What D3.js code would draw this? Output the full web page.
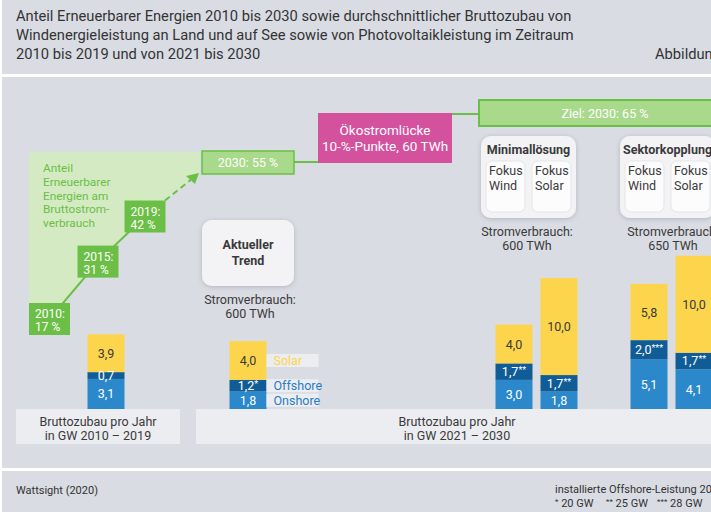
<!DOCTYPE html>
<html>
<head>
<meta charset="utf-8">
<script src="https://cdn.jsdelivr.net/npm/d3@7"></script>
<style>
  body { margin: 0; background: #fff; }
  svg { display: block; font-family: Roboto, "Noto Sans", sans-serif; }
</style>
</head>
<body>
<div id="chart"></div>
<script>
// Daten
const szenarien = ["2010-2019", "Trend", "MinWind", "MinSolar", "SekWind", "SekSolar"];
const onshore = [3.1, 1.8, 3.0, 1.8, 5.1, 4.1];
const offshore = [0.7, 1.2, 1.7, 1.7, 2.0, 1.7];
const solar = [3.9, 4.0, 4.0, 10.0, 5.8, 10.0];
const offshoreSterne = ["", "*", "**", "**", "***", "**"];

const anteilJahre = [2010, 2015, 2019];
const anteilWerte = [17, 31, 42];
const zielJahr = 2030;
const trendWert = 55;
const zielWert = 65;
const lueckePunkte = 10;
const lueckeTWh = 60;

const verbrauchTWh = [600, 600, 650]; // Trend, Minimallösung, Sektorkopplung
const fussnoteSterne = ["*", "**", "***"];
const fussnoteGW = [20, 25, 28];

// Layout
const WIDTH = 711;
const HEIGHT = 512;
const BAR_X = [106, 248, 514, 559, 649, 694];
const BAR_W = 37;
const BASE_Y = 409;

const GRAU = "#d9dce3";
const HELL = "#ecedf1";
const GRUEN = "#6cbf46";
const GRUEN_HELL = "#d3eac3";
const GRUEN_MITTEL = "#a9d98b";
const PINK = "#d4519e";
const GELB = "#fcd54d";
const DUNKELBLAU = "#0f5c97";
const BLAU = "#2b88cb";
const TEXT = "#3a3a3a";

const fmt = d3.formatLocale({ decimal: ",", thousands: ".", grouping: [3], currency: ["", " €"] }).format(".1f");

const svg = d3.select("#chart")
  .append("svg")
  .attr("width", WIDTH)
  .attr("height", HEIGHT);

const defs = svg.append("defs");
defs.append("filter")
  .attr("id", "schatten")
  .attr("x", "-20%").attr("y", "-20%").attr("width", "140%").attr("height", "140%")
  .append("feDropShadow")
  .attr("dx", 0).attr("dy", 1).attr("stdDeviation", 2.5)
  .attr("flood-color", "#000").attr("flood-opacity", 0.18);

// Hintergrundflächen
svg.append("rect").attr("x", 2).attr("y", 0).attr("width", WIDTH).attr("height", 74).attr("fill", GRAU);
svg.append("rect").attr("x", 2).attr("y", 77).attr("width", WIDTH).attr("height", 391).attr("fill", GRAU);
svg.append("rect").attr("x", 2).attr("y", 471).attr("width", WIDTH).attr("height", 41).attr("fill", GRAU);

// Titel
const titel = [
  "Anteil Erneuerbarer Energien 2010 bis 2030 sowie durchschnittlicher Bruttozubau von",
  "Windenergieleistung an Land und auf See sowie von Photovoltaikleistung im Zeitraum",
  "2010 bis 2019 und von 2021 bis 2030"
];
svg.append("g").selectAll("text")
  .data(titel)
  .join("text")
  .attr("x", 16)
  .attr("y", (d, i) => 21 + i * 19)
  .attr("font-size", 14.7)
  .attr("fill", "#333")
  .text(d => d);
svg.append("text").attr("x", 655).attr("y", 59).attr("font-size", 14.7).attr("fill", "#333").text("Abbildung");

// Untere Beschriftungsfelder
svg.append("rect").attr("x", 16).attr("y", BASE_Y).attr("width", 164).attr("height", 35).attr("fill", HELL);
svg.append("rect").attr("x", 196).attr("y", BASE_Y).attr("width", 530).attr("height", 35).attr("fill", HELL);
const unten = [
  { x: 98, zeilen: ["Bruttozubau pro Jahr", "in GW 2010 – 2019"] },
  { x: 457, zeilen: ["Bruttozubau pro Jahr", "in GW 2021 – 2030"] }
];
unten.forEach(u => {
  svg.append("text")
    .attr("text-anchor", "middle").attr("font-size", 12.5).attr("fill", TEXT)
    .selectAll("tspan").data(u.zeilen).join("tspan")
    .attr("x", u.x).attr("y", (d, i) => 426 + i * 14).text(d => d);
});

// Anteil EE: hellgrüne Fläche, Linie, Kästen
const anteilX = d3.scaleOrdinal().domain(anteilJahre).range([49.5, 98, 145]);
const anteilY = d3.scaleLinear().domain([17, 42]).range([319, 216.5]);

const punkte = anteilJahre.map((j, i) => [anteilX(j), anteilY(anteilWerte[i])]);
const flaeche = [[29, 152], [200, 152], [200, 173]].concat(punkte.slice().reverse()).concat([[29, punkte[0][1]]]);
svg.append("path")
  .attr("d", d3.line()(flaeche) + "Z")
  .attr("fill", GRUEN_HELL);

svg.append("path")
  .attr("d", d3.line()(punkte))
  .attr("fill", "none").attr("stroke", GRUEN).attr("stroke-width", 2);

// gestrichelter Pfeil 2019 -> 2030
svg.append("line")
  .attr("x1", punkte[2][0] + 20).attr("y1", punkte[2][1] - 16)
  .attr("x2", 193).attr("y2", 178)
  .attr("stroke", GRUEN).attr("stroke-width", 2).attr("stroke-dasharray", "6,4");
svg.append("path")
  .attr("d", "M199,173 L186,176 L195,184 Z")
  .attr("fill", GRUEN);

svg.append("text")
  .attr("font-size", 11.8).attr("fill", GRUEN)
  .selectAll("tspan")
  .data(["Anteil", "Erneuerbarer", "Energien am", "Bruttostrom-", "verbrauch"])
  .join("tspan")
  .attr("x", 43).attr("y", (d, i) => 172 + i * 13.8).text(d => d);

const anteilBox = svg.append("g").selectAll("g")
  .data(anteilJahre)
  .join("g")
  .attr("transform", (d, i) => `translate(${anteilX(d) - 20.5}, ${anteilY(anteilWerte[i]) - 16})`);
anteilBox.append("rect").attr("width", 41).attr("height", 32).attr("fill", GRUEN);
anteilBox.append("text")
  .attr("font-size", 12).attr("fill", "#fff")
  .selectAll("tspan")
  .data((d, i) => [d + ":", anteilWerte[i] + " %"])
  .join("tspan")
  .attr("x", 6).attr("y", (d, i) => 15 + i * 13)
  .text(d => d);

// 2030: 55 %
svg.append("rect").attr("x", 202).attr("y", 151).attr("width", 92).attr("height", 23)
  .attr("fill", GRUEN_MITTEL).attr("stroke", GRUEN).attr("stroke-width", 1.5);
svg.append("text").attr("x", 248).attr("y", 167).attr("text-anchor", "middle")
  .attr("font-size", 12.5).attr("fill", "#fff").text(`${zielJahr}: ${trendWert} %`);

// Verbindungslinien
svg.append("line").attr("x1", 294).attr("y1", 162).attr("x2", 318).attr("y2", 162)
  .attr("stroke", GRUEN).attr("stroke-width", 2);
svg.append("line").attr("x1", 452).attr("y1", 114).attr("x2", 479).attr("y2", 114)
  .attr("stroke", GRUEN).attr("stroke-width", 2);

// Ökostromlücke
svg.append("rect").attr("x", 318).attr("y", 113).attr("width", 134).attr("height", 50).attr("fill", PINK);
svg.append("text")
  .attr("text-anchor", "middle").attr("font-size", 13.5).attr("fill", "#fff")
  .selectAll("tspan")
  .data(["Ökostromlücke", `${lueckePunkte}-%-Punkte, ${lueckeTWh} TWh`])
  .join("tspan")
  .attr("x", 385).attr("y", (d, i) => 135 + i * 16).text(d => d);

// Ziel
svg.append("rect").attr("x", 479).attr("y", 100).attr("width", 260).attr("height", 26)
  .attr("fill", GRUEN_MITTEL).attr("stroke", GRUEN).attr("stroke-width", 2);
svg.append("text").attr("x", 605).attr("y", 118).attr("text-anchor", "middle")
  .attr("font-size", 12.5).attr("fill", "#fff").text(`Ziel: ${zielJahr}: ${zielWert} %`);

// Aktueller Trend
svg.append("rect").attr("x", 202).attr("y", 220).attr("width", 92).attr("height", 66).attr("rx", 10)
  .attr("fill", "#f3f3f5").attr("filter", "url(#schatten)");
svg.append("text")
  .attr("text-anchor", "middle").attr("font-size", 12.5).attr("font-weight", "bold").attr("fill", TEXT)
  .selectAll("tspan").data(["Aktueller", "Trend"]).join("tspan")
  .attr("x", 248).attr("y", (d, i) => 249 + i * 16).text(d => d);

// Szenario-Kästen
const szenarioKaesten = [
  { x: 481, titel: "Minimallösung" },
  { x: 620, titel: "Sektorkopplung" }
];
szenarioKaesten.forEach(k => {
  const g = svg.append("g").attr("transform", `translate(${k.x}, 136)`);
  g.append("rect").attr("width", 95).attr("height", 82).attr("rx", 10)
    .attr("fill", "#f3f3f5").attr("filter", "url(#schatten)");
  g.append("text").attr("x", 47.5).attr("y", 18).attr("text-anchor", "middle")
    .attr("font-size", 12.5).attr("font-weight", "bold").attr("fill", TEXT).text(k.titel);
  ["Wind", "Solar"].forEach((f, i) => {
    g.append("rect").attr("x", 5 + i * 46).attr("y", 25).attr("width", 39).attr("height", 51).attr("rx", 6)
      .attr("fill", "#fcfcfd").attr("stroke", "#e4e5e9").attr("stroke-width", 1);
    g.append("text").attr("font-size", 12.5).attr("fill", TEXT)
      .selectAll("tspan").data(["Fokus", f]).join("tspan")
      .attr("x", 8 + i * 46).attr("y", (d, j) => 39 + j * 15).text(d => d);
  });
});

// Stromverbrauch
const verbrauchPos = [[250, 304], [527, 236], [673, 236]];
verbrauchTWh.forEach((v, i) => {
  svg.append("text")
    .attr("text-anchor", "middle").attr("font-size", 12.5).attr("fill", TEXT)
    .selectAll("tspan").data(["Stromverbrauch:", `${v} TWh`]).join("tspan")
    .attr("x", verbrauchPos[i][0]).attr("y", (d, j) => verbrauchPos[i][1] + j * 14).text(d => d);
});

// Balken
const tabelle = szenarien.map((s, i) => ({
  szenario: s, onshore: onshore[i], offshore: offshore[i], solar: solar[i], sterne: offshoreSterne[i]
}));
const keys = ["onshore", "offshore", "solar"];
const farben = { onshore: BLAU, offshore: DUNKELBLAU, solar: GELB };
const textFarben = { onshore: "#fff", offshore: "#fff", solar: TEXT };

const x = d3.scaleOrdinal().domain(szenarien).range(BAR_X);
const y = d3.scaleLinear().domain([0, 16]).range([BASE_Y, BASE_Y - 16 * 9.7]);

const serien = d3.stack().keys(keys)(tabelle);

const schichten = svg.append("g").selectAll("g")
  .data(serien)
  .join("g")
  .attr("fill", d => farben[d.key]);

schichten.selectAll("rect")
  .data(d => d)
  .join("rect")
  .attr("x", d => x(d.data.szenario) - BAR_W / 2)
  .attr("y", d => y(d[1]))
  .attr("width", BAR_W)
  .attr("height", d => y(d[0]) - y(d[1]));

serien.forEach(s => {
  const t = svg.append("g").selectAll("text")
    .data(s)
    .join("text")
    .attr("x", d => x(d.data.szenario))
    .attr("y", d => (y(d[0]) + y(d[1])) / 2 + 4.5)
    .attr("text-anchor", "middle")
    .attr("font-size", 12.5)
    .attr("fill", textFarben[s.key]);
  t.append("tspan").text(d => fmt(d.data[s.key]));
  if (s.key === "offshore") {
    t.append("tspan").attr("font-size", 9).attr("dy", -3).text(d => d.data.sterne);
  }
});

// Legende am Trend-Balken
const legendeFarbe = { onshore: "#2a7cc2", offshore: "#2a7cc2", solar: GELB };
const legendeName = { onshore: "Onshore", offshore: "Offshore", solar: "Solar" };
const legende = svg.append("g").selectAll("g")
  .data(serien)
  .join("g")
  .attr("transform", d => `translate(${x("Trend") + BAR_W / 2}, ${(y(d[1][0]) + y(d[1][1])) / 2})`);
legende.append("rect").attr("x", 0).attr("y", -6.5).attr("width", 52).attr("height", 13).attr("fill", HELL);
legende.append("text").attr("x", 7).attr("y", 4.5).attr("font-size", 12.5)
  .attr("fill", d => legendeFarbe[d.key]).text(d => legendeName[d.key]);

// Fußzeile
svg.append("text").attr("x", 16).attr("y", 494).attr("font-size", 11).attr("fill", "#333").text("Wattsight (2020)");
svg.append("text").attr("x", 555).attr("y", 493).attr("font-size", 11).attr("fill", "#333")
  .text("installierte Offshore-Leistung 2030:");
const fuss = svg.append("g").selectAll("text")
  .data(fussnoteGW)
  .join("text")
  .attr("x", (d, i) => 555 + i * 51)
  .attr("y", 507)
  .attr("font-size", 11)
  .attr("fill", "#333");
fuss.append("tspan").attr("font-size", 8).attr("dy", -3).text((d, i) => fussnoteSterne[i]);
fuss.append("tspan").attr("dy", 3).text(d => ` ${d} GW`);
</script>
</body>
</html>
